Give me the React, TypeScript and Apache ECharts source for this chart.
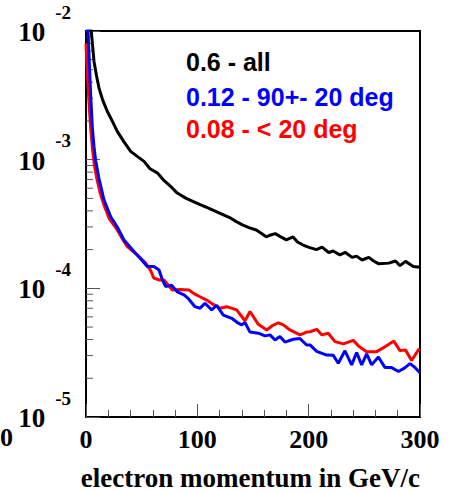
import React, { useEffect, useRef } from "react";
import * as echarts from "echarts";

// electron momentum (GeV/c) and values per series
const allX = [4.5, 7.2, 9.5, 11.7, 15, 19.1, 23.5, 28.1, 34, 40.1, 46, 52.1, 57.5, 64, 70, 76, 82, 90, 97, 102, 110, 120, 129, 135, 141, 147, 153, 158, 162, 166, 170, 175, 180, 186, 190, 195, 201, 207, 212, 218, 222, 228, 233, 239, 243, 248, 254, 258, 263, 272, 278, 282, 287, 294, 300];
const allY = [1.05e-2, 5.8e-3, 4.47e-3, 3.6e-3, 2.9e-3, 2.38e-3, 2.0e-3, 1.66e-3, 1.38e-3, 1.16e-3, 1.06e-3, 9.7e-4, 8.5e-4, 7.9e-4, 6.9e-4, 6.2e-4, 5.5e-4, 5.0e-4, 4.7e-4, 4.5e-4, 4.2e-4, 3.84e-4, 3.55e-4, 3.3e-4, 3.1e-4, 2.95e-4, 2.84e-4, 2.66e-4, 2.51e-4, 2.6e-4, 2.66e-4, 2.51e-4, 2.38e-4, 2.51e-4, 2.29e-4, 2.17e-4, 2.07e-4, 2.0e-4, 2.09e-4, 1.9e-4, 1.95e-4, 1.82e-4, 1.9e-4, 1.74e-4, 1.78e-4, 1.66e-4, 1.74e-4, 1.64e-4, 1.55e-4, 1.57e-4, 1.63e-4, 1.5e-4, 1.62e-4, 1.48e-4, 1.46e-4];

const midX = [1.5, 1.8, 3.0, 4.2, 5.7, 7.2, 8.7, 11.7, 16.2, 22.2, 28.1, 34.1, 43.1, 49, 55.1, 61, 65.6, 68.5, 71.6, 76.6, 82, 88, 92, 97.9, 102.4, 106.9, 112.9, 117.4, 123.3, 130.9, 136.8, 139.9, 142.8, 147.3, 154.8, 160.8, 165.3, 169.8, 174.2, 178.7, 186.2, 192.2, 198.2, 201.2, 207.2, 216.2, 222.1, 226.6, 232.6, 238.6, 243.1, 247.6, 252.1, 256.6, 262.6, 268.6, 274.6, 280.6, 286, 291, 295, 300];
const midY = [1.1e-2, 1.0e-2, 5.6e-3, 3.2e-3, 1.76e-3, 1.26e-3, 9.8e-4, 7.1e-4, 4.86e-4, 3.6e-4, 3.0e-4, 2.38e-4, 1.93e-4, 1.7e-4, 1.48e-4, 1.48e-4, 1.39e-4, 1.17e-4, 1.03e-4, 1.06e-4, 9.4e-5, 8.9e-5, 8.3e-5, 7.2e-5, 7.0e-5, 7.66e-5, 6.8e-5, 7.36e-5, 6.2e-5, 5.85e-5, 5.36e-5, 5.2e-5, 5.42e-5, 4.57e-5, 4.48e-5, 4.27e-5, 4.35e-5, 3.97e-5, 4.22e-5, 3.82e-5, 4.02e-5, 4.07e-5, 3.63e-5, 3.63e-5, 3.24e-5, 3.03e-5, 3.02e-5, 2.62e-5, 3.27e-5, 2.54e-5, 3.17e-5, 2.54e-5, 3.09e-5, 2.54e-5, 2.93e-5, 2.42e-5, 2.42e-5, 2.26e-5, 2.4e-5, 2.6e-5, 2.45e-5, 2.21e-5];

const fwdX = [0, 0.6, 2.0, 3.0, 4.2, 6.0, 7.5, 9.6, 13, 16.5, 20.7, 28.1, 33, 37.1, 46, 53.6, 58, 61, 66, 70, 77.5, 85, 92.5, 97, 102.4, 108.4, 114.3, 120.4, 126.4, 135.3, 142.8, 147.3, 154.8, 162.3, 167, 172.8, 177.2, 183.2, 192.2, 198.2, 201.2, 207.2, 211.7, 217.6, 223.6, 231.1, 240.1, 245, 252.1, 261.1, 268.6, 276.5, 282, 287, 292.5, 298.5, 300];
const fwdY = [8e-3, 6.0e-3, 3.55e-3, 2.5e-3, 1.76e-3, 1.17e-3, 9.1e-4, 7.2e-4, 5.4e-4, 4.36e-4, 3.5e-4, 2.84e-4, 2.4e-4, 2.11e-4, 1.82e-4, 1.57e-4, 1.38e-4, 1.2e-4, 1.16e-4, 1.16e-4, 9.7e-5, 9.8e-5, 9.7e-5, 9.1e-5, 8.6e-5, 8.1e-5, 7.5e-5, 7.0e-5, 7.2e-5, 6.8e-5, 5.6e-5, 6.6e-5, 5.25e-5, 4.75e-5, 5.1e-5, 5.4e-5, 5.2e-5, 4.75e-5, 4.35e-5, 4.57e-5, 4.6e-5, 4.8e-5, 4.35e-5, 4.48e-5, 3.85e-5, 3.7e-5, 3.94e-5, 3.55e-5, 3.22e-5, 3.22e-5, 3.52e-5, 3.89e-5, 3.28e-5, 3.31e-5, 2.75e-5, 3.32e-5, 3.39e-5];

const legendTexts = ["0.6 - all", "0.12 - 90+- 20 deg", "0.08 - < 20 deg"];
const xTitle = "electron momentum in GeV/c";
const yMinorTicks = [2e-5, 3e-5, 4e-5, 5e-5, 6e-5, 7e-5, 8e-5, 9e-5, 2e-4, 3e-4, 4e-4, 5e-4, 6e-4, 7e-4, 8e-4, 9e-4, 2e-3, 3e-3, 4e-3, 5e-3, 6e-3, 7e-3, 8e-3, 9e-3];

const zip = (xs: number[], ys: number[]) => xs.map((x, i) => [x, ys[i]]);

const SERIF = "'Liberation Serif', 'DejaVu Serif', serif";
const SANS = "'Liberation Sans', Arial, sans-serif";

export default function App() {
  const ref = useRef<HTMLDivElement>(null);
  useEffect(() => {
    if (!ref.current) return;
    const chart = echarts.init(ref.current, null, { renderer: "svg" });
    chart.setOption({
      animation: false,
      backgroundColor: "#fff",
      grid: { left: 86, right: 41, top: 31, bottom: 76, show: true, borderColor: "#000", borderWidth: 2, backgroundColor: "transparent" },
      xAxis: {
        type: "value",
        min: 0,
        max: 300,
        interval: 100,
        axisLine: { show: false },
        splitLine: { show: false },
        axisTick: { show: true, inside: true, length: 13, lineStyle: { color: "#555", width: 1 } },
        minorTick: { show: true, splitNumber: 5, length: 7, lineStyle: { color: "#555", width: 1 } },
        axisLabel: { margin: 9, color: "#000", fontSize: 26, fontWeight: "bold", fontFamily: SERIF },
      },
      yAxis: {
        type: "log",
        logBase: 10,
        min: 1e-5,
        max: 1e-2,
        splitNumber: 3,
        axisLine: { show: false },
        splitLine: { show: false },
        axisTick: { show: true, inside: true, length: 14, lineStyle: { color: "#555", width: 1 } },
        axisLabel: {
          margin: 15,
          padding: [0, 0, 16, 0],
          hideOverlap: false,
          formatter: (v: number) => `{e|${Math.round(Math.log10(v))}}\n{b|10}`,
          rich: {
            e: { fontSize: 19, fontWeight: "bold", fontFamily: SERIF, color: "#000", lineHeight: 18, padding: [0, 0, 0, 37], align: "left" },
            b: { fontSize: 27, fontWeight: "bold", fontFamily: SERIF, color: "#000", lineHeight: 22, align: "left" },
          },
        },
      },
      graphic: [
        { type: "text", left: 186, top: 49, style: { text: legendTexts[0], fill: "#000", font: `bold 25px ${SANS}` } },
        { type: "text", left: 186, top: 84, style: { text: legendTexts[1], fill: "#0000ff", font: `bold 25px ${SANS}` } },
        { type: "text", left: 186, top: 116, style: { text: legendTexts[2], fill: "#ff0000", font: `bold 25px ${SANS}` } },
        { type: "text", x: 420, y: 478, style: { text: xTitle, fill: "#000", font: `bold 27px ${SERIF}`, align: "right", verticalAlign: "middle", lineHeight: 20 } },
        { type: "text", left: 0, top: 424, style: { text: "0", fill: "#000", font: `bold 26px ${SERIF}` } },
      ],
      series: [
        { type: "line", data: zip(allX, allY), showSymbol: false, symbol: "none", lineStyle: { color: "#000", width: 3 }, itemStyle: { color: "#000" }, z: 3 },
        { type: "line", data: zip(fwdX, fwdY), showSymbol: false, symbol: "none", lineStyle: { color: "#ff0000", width: 3 }, itemStyle: { color: "#ff0000" }, z: 3 },
        { type: "line", data: zip(midX, midY), showSymbol: false, symbol: "none", lineStyle: { color: "#0000ff", width: 3 }, itemStyle: { color: "#0000ff" }, z: 4 },
        {
          type: "custom",
          data: yMinorTicks.map((v) => [0, v]),
          silent: true,
          clip: false,
          renderItem: (_p: any, api: any) => {
            const pt = api.coord([0, api.value(1)]);
            return { type: "line", shape: { x1: pt[0], y1: pt[1], x2: pt[0] + 7, y2: pt[1] }, style: { stroke: "#555", lineWidth: 1 } };
          },
          z: 1,
        },
      ],
    });
    return () => chart.dispose();
  }, []);
  return <div ref={ref} style={{ position: "absolute", left: 0, top: 0, width: 461, height: 493 }} />;
}
